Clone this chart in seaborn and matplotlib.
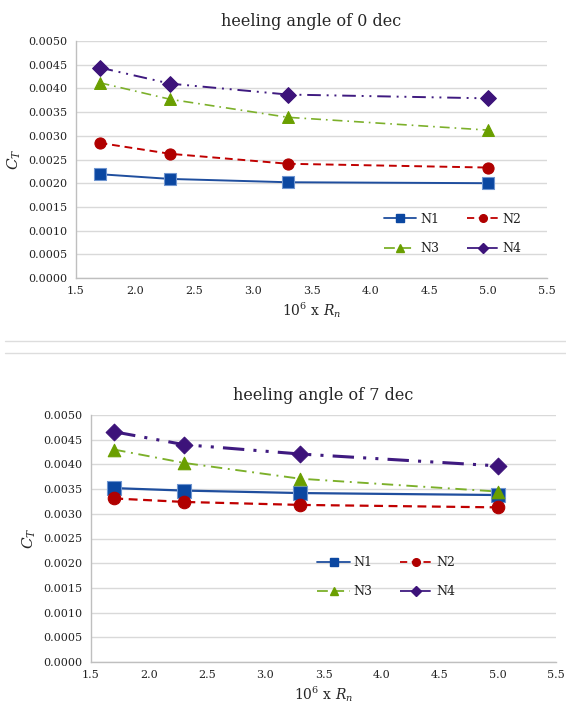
import numpy as np
import pandas as pd
import matplotlib
matplotlib.use("Agg")
import matplotlib.pyplot as plt
import seaborn as sns
from matplotlib.lines import Line2D

sns.set_theme(style="white")
plt.rcParams['font.family'] = ['DejaVu Serif']
plt.rcParams['mathtext.fontset'] = 'dejavuserif'

x_vals = [1.7, 2.3, 3.3, 5.0]
series = ["N1", "N2", "N3", "N4"]

# heeling angle 0
top_N1 = [0.00219, 0.00209, 0.00202, 0.00200]
top_N2 = [0.00285, 0.00262, 0.00241, 0.00233]
top_N3 = [0.00412, 0.00377, 0.00339, 0.00312]
top_N4 = [0.00444, 0.00410, 0.00387, 0.00379]

# heeling angle 7
bot_N1 = [0.00352, 0.00347, 0.00342, 0.00338]
bot_N2 = [0.00331, 0.00324, 0.00318, 0.00313]
bot_N3 = [0.00430, 0.00403, 0.00371, 0.00345]
bot_N4 = [0.00466, 0.00440, 0.00421, 0.00397]

titles = ["heeling angle of 0 dec", "heeling angle of 7 dec"]
yticks = [0.0000, 0.0005, 0.0010, 0.0015, 0.0020, 0.0025, 0.0030, 0.0035, 0.0040, 0.0045, 0.0050]
xticks = [1.5, 2.0, 2.5, 3.0, 3.5, 4.0, 4.5, 5.0, 5.5]

line_colors = {"N1": "#1F4E9E", "N2": "#C00000", "N3": "#7CB02A", "N4": "#3F1A80"}
marker_face = {"N1": "#0B47A1", "N2": "#B00000", "N3": "#6A9F00", "N4": "#3D137A"}
markers = {"N1": "s", "N2": "o", "N3": "^", "N4": "D"}
dashes = {"N1": "", "N2": (4, 2.5), "N3": (6, 3, 1, 3), "N4": (7, 3, 1, 3, 1, 3)}


def make_df(vals):
    rows = []
    for s, v in zip(series, vals):
        for xx, yy in zip(x_vals, v):
            rows.append({"x": xx, "y": yy, "series": s})
    return pd.DataFrame(rows)


fig = plt.figure(figsize=(5.66, 7.11), dpi=100)
W, H = 566, 711

def px_axes(l, r, t, b):
    return fig.add_axes([l / W, 1 - b / H, (r - l) / W, (b - t) / H])

ax1 = px_axes(76, 547, 41, 278)
ax2 = px_axes(91, 556, 415, 662)

configs = [
    (ax1, [top_N1, top_N2, top_N3, top_N4], 1.4, {"N1": 8, "N2": 8, "N3": 8.5, "N4": 8},
     (0.80, 0.186)),
    (ax2, [bot_N1, bot_N2, bot_N3, bot_N4], 1.6, {"N1": 9.5, "N2": 9, "N3": 9, "N4": 8.5},
     (0.635, 0.344)),
]

for i, (ax, vals, lw, msz, legpos) in enumerate(configs):
    df = make_df(vals)
    for s in series:
        sub = df[df.series == s]
        lwi = lw
        if i == 1 and s == "N4":
            lwi = 2.2
        if s == "N3":
            lwi = lw * 0.85
        sns.lineplot(data=sub, x="x", y="y", ax=ax, color=line_colors[s],
                     linewidth=lwi, dashes=False, legend=False, zorder=2)
        ln = ax.get_lines()[-1]
        if dashes[s]:
            ln.set_dashes(dashes[s])
        ax.scatter(sub.x, sub.y, marker=markers[s], s=msz[s] ** 2,
                   color=marker_face[s],
                   edgecolor="#6F95D0" if s == "N1" else marker_face[s],
                   linewidth=0.8, zorder=3)
    ax.set_xlim(1.5, 5.5)
    ax.set_ylim(0, 0.005)
    ax.set_xticks(xticks)
    ax.set_xticklabels([f"{t:.1f}" for t in xticks], fontsize=8, color="#222222")
    ax.set_yticks(yticks)
    ax.set_yticklabels([f"{t:.4f}" for t in yticks], fontsize=8, color="#222222")
    ax.tick_params(axis="both", length=0, pad=6)
    ax.yaxis.grid(True, color="#D9D9D9", linewidth=1)
    ax.set_axisbelow(True)
    for side in ["top", "right"]:
        ax.spines[side].set_visible(False)
    for side in ["left", "bottom"]:
        ax.spines[side].set_color("#BFBFBF")
        ax.spines[side].set_linewidth(1)
    ax.set_xlabel(r"$\mathit{10}^{\mathit{6}}$ x $R_n$", fontsize=10, labelpad=3)
    ax.set_ylabel(r"$C_T$", fontsize=11, labelpad=4)
    ax.set_title(titles[i], fontsize=11.5, pad=11)

    handles = {}
    for s in series:
        h = Line2D([0], [0], color=line_colors[s], linewidth=1.3,
                   marker=markers[s], markersize=5.5,
                   markerfacecolor=marker_face[s], markeredgecolor=marker_face[s])
        if dashes[s]:
            h.set_dashes(dashes[s][:2])
        handles[s] = h
    order = ["N1", "N3", "N2", "N4"]  # row-major fill for 2 columns
    leg = ax.legend([handles[s] for s in order], order, ncol=2, frameon=False,
                    loc="center", bbox_to_anchor=legpos, fontsize=9,
                    handlelength=2.6, columnspacing=2.2, labelspacing=1.3,
                    handletextpad=0.3)
    for t in leg.get_texts():
        t.set_color("#222222")

# separator lines between the two charts
fig.add_artist(Line2D([5 / W, 1], [1 - 341 / H, 1 - 341 / H], color="#DDDDDD", linewidth=1))
fig.add_artist(Line2D([5 / W, 1], [1 - 353 / H, 1 - 353 / H], color="#DDDDDD", linewidth=1))

fig.savefig("out.png", dpi=100, facecolor="white")
